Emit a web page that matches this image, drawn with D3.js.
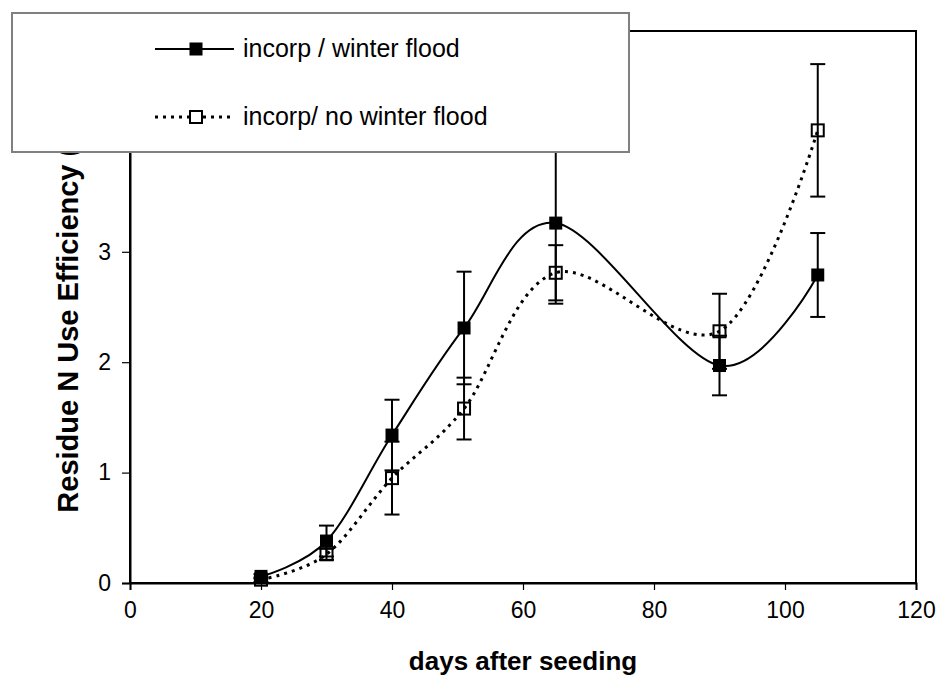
<!DOCTYPE html>
<html><head><meta charset="utf-8">
<script src="https://cdn.jsdelivr.net/npm/d3@7"></script>
<style>body{margin:0;background:#fff;} svg{display:block;}</style>
</head><body>
<svg id="chart" width="938" height="679"></svg>
<script>
const days = [20, 30, 40, 51, 65, 90, 105];
const floodVals = [0.06, 0.38, 1.34, 2.31, 3.26, 1.97, 2.79];
const floodErr  = [0.02, 0.14, 0.32, 0.51, 0.73, 0.27, 0.38];
const noFloodVals = [0.03, 0.26, 0.95, 1.58, 2.81, 2.28, 4.10];
const noFloodErr  = [0.02, 0.05, 0.33, 0.28, 0.25, 0.34, 0.60];
const xTicks = [0, 20, 40, 60, 80, 100, 120];
const yTicks = [0, 1, 2, 3];
const seriesNames = ["incorp / winter flood", "incorp/ no winter flood"];
const xTitle = "days after seeding";
const yTitle = "Residue N Use Efficiency (%)";

const FONT = "'Liberation Sans', Arial, sans-serif";
const svg = d3.select("#chart");
const L = 130, R = 916, T = 31, B = 583;
const x = d3.scaleLinear().domain([0, 120]).range([L, R]);
const y = d3.scaleLinear().domain([0, 5]).range([B, T]);

// plot frame
svg.append("rect").attr("x", L).attr("y", T).attr("width", R - L).attr("height", B - T)
  .attr("fill", "none").attr("stroke", "#000").attr("stroke-width", 2);

// axes
const xAxis = svg.append("g").attr("transform", `translate(0,${B})`)
  .call(d3.axisBottom(x).tickValues(xTicks).tickSize(7).tickPadding(12).tickFormat(d3.format("d")));
const yAxis = svg.append("g").attr("transform", `translate(${L},0)`)
  .call(d3.axisLeft(y).tickValues(yTicks).tickSize(8).tickPadding(11).tickFormat(d3.format("d")));
[xAxis, yAxis].forEach(g => {
  g.select(".domain").attr("stroke", "#000").attr("stroke-width", 2);
  g.selectAll(".tick line").attr("stroke", "#000").attr("stroke-width", 1.2);
  g.selectAll(".tick text").attr("font-family", FONT).attr("font-size", 23).attr("fill", "#000");
});

// titles
svg.append("text").attr("x", (L + R) / 2).attr("y", 670).attr("text-anchor", "middle")
  .attr("font-family", FONT).attr("font-weight", "bold").attr("font-size", 26).text(xTitle);
svg.append("text").attr("transform", `translate(78,312) rotate(-90)`)
  .attr("text-anchor", "middle")
  .attr("font-family", FONT).attr("font-weight", "bold").attr("font-size", 29).text(yTitle);

const d1 = days.map((d, i) => ({x: d, v: floodVals[i], e: floodErr[i]}));
const d2 = days.map((d, i) => ({x: d, v: noFloodVals[i], e: noFloodErr[i]}));

const line = d3.line().x(d => x(d.x)).y(d => y(d.v)).curve(d3.curveCardinal.tension(0));

function errorBars(data) {
  const g = svg.append("g").attr("stroke", "#000").attr("stroke-width", 2);
  data.forEach(d => {
    const cx = x(d.x);
    g.append("line").attr("x1", cx).attr("x2", cx).attr("y1", y(d.v - d.e)).attr("y2", y(d.v + d.e));
    [d.v - d.e, d.v + d.e].forEach(v => {
      g.append("line").attr("x1", cx - 7.5).attr("x2", cx + 7.5).attr("y1", y(v)).attr("y2", y(v));
    });
  });
}
errorBars(d2);
errorBars(d1);

svg.append("path").datum(d2).attr("d", line).attr("fill", "none").attr("stroke", "#000")
  .attr("stroke-width", 3).attr("stroke-dasharray", "3,5");
svg.append("path").datum(d1).attr("d", line).attr("fill", "none").attr("stroke", "#000")
  .attr("stroke-width", 2);

svg.append("g").selectAll("rect").data(d2).join("rect")
  .attr("x", d => x(d.x) - 6).attr("y", d => y(d.v) - 6).attr("width", 12).attr("height", 12)
  .attr("fill", "none").attr("stroke", "#000").attr("stroke-width", 2);
svg.append("g").selectAll("rect").data(d1).join("rect")
  .attr("x", d => x(d.x) - 6.5).attr("y", d => y(d.v) - 6.5).attr("width", 13).attr("height", 13)
  .attr("fill", "#000");

// legend
const lg = svg.append("g");
lg.append("rect").attr("x", 12).attr("y", 13).attr("width", 617).attr("height", 139)
  .attr("fill", "#fff").attr("stroke", "#808080").attr("stroke-width", 2);
const rows = [49, 117];
lg.append("line").attr("x1", 155).attr("x2", 234).attr("y1", rows[0]).attr("y2", rows[0])
  .attr("stroke", "#000").attr("stroke-width", 2);
lg.append("rect").attr("x", 196 - 6.5).attr("y", rows[0] - 6.5).attr("width", 13).attr("height", 13).attr("fill", "#000");
lg.append("line").attr("x1", 155).attr("x2", 234).attr("y1", rows[1]).attr("y2", rows[1])
  .attr("stroke", "#000").attr("stroke-width", 3).attr("stroke-dasharray", "3,5");
lg.append("rect").attr("x", 196 - 6).attr("y", rows[1] - 6).attr("width", 12).attr("height", 12)
  .attr("fill", "#fff").attr("stroke", "#000").attr("stroke-width", 2);
seriesNames.forEach((n, i) => {
  lg.append("text").attr("x", 243).attr("y", rows[i] + 8).attr("font-family", FONT)
    .attr("font-size", 25).attr("fill", "#000").text(n);
});
</script>
</body></html>
